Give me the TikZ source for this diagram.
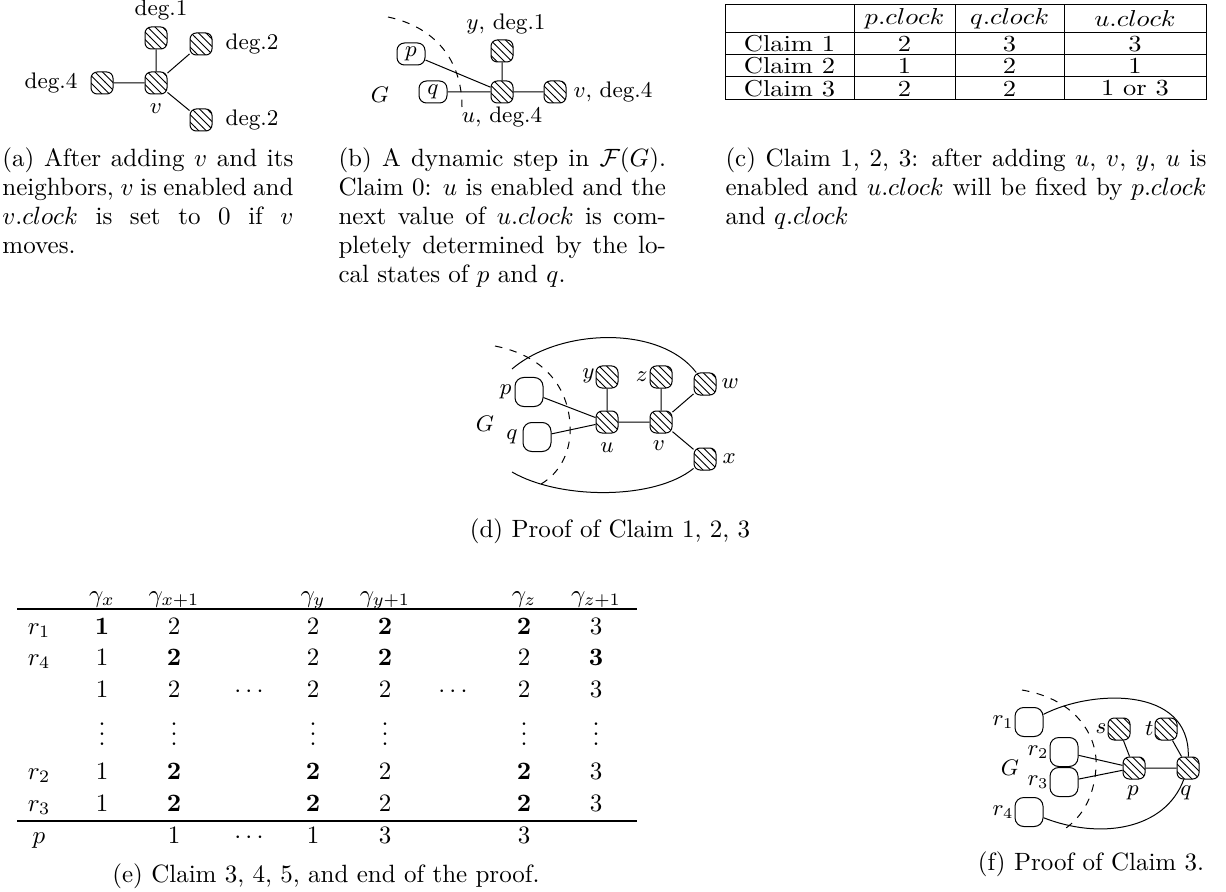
\documentclass[tikz,border=0pt]{standalone}
\usetikzlibrary{patterns}
\tolerance=10000
\hyphenpenalty=10000
\newcommand\tabrowE[3]{%
  \foreach \v [count=\k] in {#3} {%
    \pgfmathsetmacro\xx{{39,102,174,249,313,385,453,524,596}[\k-1]}%
    \node[tc] (#1\k) at (\xx,#2) {\v};
  }}
\newcommand\tabtxt[1]{\scalebox{1.06}[0.92]{#1}}
\newcommand\vdd{\vbox{\baselineskip4pt\lineskiplimit0pt\hbox{.}\hbox{.}\hbox{.}}}
\begin{document}
\begin{tikzpicture}[x=0.4pt,y=-0.4pt,line width=0.4pt,
 hn/.style={draw,rounded corners=2.5pt,minimum size=8.8pt,inner sep=0pt,pattern=north west lines},
 gb/.style={draw,rounded corners=3pt,minimum width=11.2pt,minimum height=8.8pt,inner sep=0pt,font=\fontsize{9}{11}\selectfont},
 gbb/.style={draw,rounded corners=3.5pt,minimum width=11.2pt,minimum height=11.6pt,inner sep=0pt},
 lb/.style={inner sep=0pt,font=\fontsize{9}{11}\selectfont},
 captxt/.style={anchor=base west,inner sep=0pt,align=justify,font=\fontsize{10}{11.6}\selectfont},
 ctr/.style={anchor=base,inner sep=0pt,font=\fontsize{10}{12}\selectfont},
 tc/.style={anchor=base,inner sep=0pt,font=\fontsize{10}{12}\selectfont},
 cc/.style={inner sep=0pt,font=\fontsize{10}{12}\selectfont},
 rl/.style={line width=0.7pt},
]
\useasboundingbox (0,0) rectangle (1226,892);

% ---------- (a)
\node[hn] (av) at (156,83) {};
\node[hn] (a1) at (156,38) {};
\node[hn] (a2) at (201,44) {};
\node[hn] (a4) at (102,83) {};
\node[hn] (a3) at (201,120) {};
\draw (av) -- (a1) (av) -- (a2) (av) -- (a4) (av) -- (a3);
\node[lb] (la1) at (161,10) {deg.1};
\node[lb] (la2) at (252,44) {deg.2};
\node[lb] (la4) at (51,83) {deg.4};
\node[lb] (la3) at (252,120) {deg.2};
\node[lb] (lav) at (156,109) {$v$};
\node[captxt,text width=116.4pt] (capa) at (2,167) {(a) After adding $v$ and its\linebreak neighbors, $v$ is enabled and\linebreak $v.clock$ is set to 0 if $v$\linebreak moves.};

% ---------- (b)
\node[gb] (bp) at (411,54) {$p$};
\node[gb] (bq) at (433,92) {$q$};
\node[hn] (bu) at (502,92) {};
\node[hn] (by) at (502,51) {};
\node[hn] (bv) at (555,92) {};
\draw (bp) -- (bu) (bq) -- (bu) (by) -- (bu) (bu) -- (bv);
\node[lb] (lbG) at (380,95) {$G$};
\node[lb] (lby) at (506,24) {$y$, deg.1};
\node[lb,anchor=west] (lbv) at (573,92) {$v$, deg.4};
\node[lb] (lbu) at (502,117) {$u$, deg.4};
\draw[dashed] (388,17) .. controls (435,27) and (462,60) .. (462,107);
\node[captxt,text width=131pt] (capb) at (338,167) {(b) A dynamic step in $\mathcal{F}(G)$.\linebreak Claim 0: $u$ is enabled and the\linebreak next value of $u.clock$ is com-\linebreak pletely determined by the lo-\linebreak cal states of $p$ and $q$.};

% ---------- (c)
\draw (725,5) rectangle (1206,100);
\draw (725,33) -- (1206,33) (725,55) -- (1206,55) (725,77) -- (1206,77);
\draw (854,5) -- (854,100) (955,5) -- (955,100) (1064,5) -- (1064,100);
\node[cc] (c12) at (904.5,19) {\tabtxt{$p.clock$}};
\node[cc] (c13) at (1009.5,19) {\tabtxt{$q.clock$}};
\node[cc] (c14) at (1135,19) {\tabtxt{$u.clock$}};
\node[cc] (c21) at (789.5,44) {\tabtxt{Claim 1}};
\node[cc] (c22) at (904.5,44) {\tabtxt{2}};
\node[cc] (c23) at (1009.5,44) {\tabtxt{3}};
\node[cc] (c24) at (1135,44) {\tabtxt{3}};
\node[cc] (c31) at (789.5,66) {\tabtxt{Claim 2}};
\node[cc] (c32) at (904.5,66) {\tabtxt{1}};
\node[cc] (c33) at (1009.5,66) {\tabtxt{2}};
\node[cc] (c34) at (1135,66) {\tabtxt{1}};
\node[cc] (c41) at (789.5,88.5) {\tabtxt{Claim 3}};
\node[cc] (c42) at (904.5,88.5) {\tabtxt{2}};
\node[cc] (c43) at (1009.5,88.5) {\tabtxt{2}};
\node[cc] (c44) at (1135,88.5) {\tabtxt{1 or 3}};
\node[captxt,text width=192.4pt] (capc) at (725,167) {(c) Claim 1, 2, 3: after adding $u$, $v$, $y$, $u$ is\linebreak enabled and $u.clock$ will be fixed by $p.clock$\linebreak and $q.clock$};

% ---------- (d)
\node[gbb] (dp) at (529,392) {};
\node[gbb] (dq) at (537,437) {};
\node[hn] (du) at (607,422) {};
\node[hn] (dv) at (661,422) {};
\node[hn] (dy) at (607,377) {};
\node[hn] (dz) at (661,377) {};
\node[hn] (dw) at (705,384) {};
\node[hn] (dx) at (705,459) {};
\draw (dp) -- (du) (dq) -- (du) (dy) -- (du) (du) -- (dv) (dz) -- (dv) (dv) -- (dw) (dv) -- (dx);
\coordinate (dt) at (512,369);
\coordinate (db) at (512,472);
\draw (dt) .. controls (560,328) and (660,325) .. (dw);
\draw (db) .. controls (560,500) and (655,500) .. (dx);
\draw[dashed] (495,346) .. controls (555,358) and (572,400) .. (570,435) .. controls (568,462) and (552,480) .. (535,487);
\node[lb,anchor=east] (ldp) at (512,392) {$p$};
\node[lb,anchor=east] (ldq) at (518,437) {$q$};
\node[lb] (ldG) at (485,424) {$G$};
\node[lb,anchor=east] (ldy) at (595,376) {$y$};
\node[lb,anchor=east] (ldz) at (648,377) {$z$};
\node[lb,anchor=west] (ldw) at (721,384) {$w$};
\node[lb,anchor=west] (ldx) at (722,459) {$x$};
\node[lb] (ldu) at (607,448) {$u$};
\node[lb] (ldv) at (659,446) {$v$};
\node[ctr] (capd) at (610,537) {(d) Proof of Claim 1, 2, 3};

% ---------- (e)
\draw[rl] (17,609) -- (637,609);
\draw[rl] (17,821) -- (637,821);
\tabrowE{eh}{602}{{},{$\gamma_x$},{$\gamma_{x+1}$},{},{$\gamma_y$},{$\gamma_{y+1}$},{},{$\gamma_z$},{$\gamma_{z+1}$}}
\tabrowE{ea}{634}{{$r_1$},{$\mathbf{1}$},2,{},2,{$\mathbf{2}$},{},{$\mathbf{2}$},3}
\tabrowE{eb}{665}{{$r_4$},1,{$\mathbf{2}$},{},2,{$\mathbf{2}$},{},2,{$\mathbf{3}$}}
\tabrowE{ec}{697}{{},1,2,{$\cdots$},2,2,{$\cdots$},2,3}
\tabrowE{ed}{745}{{},{\vdd},{\vdd},{},{\vdd},{\vdd},{},{\vdd},{\vdd}}
\tabrowE{ee}{779}{{$r_2$},1,{$\mathbf{2}$},{},{$\mathbf{2}$},2,{},{$\mathbf{2}$},3}
\tabrowE{ef}{811}{{$r_3$},1,{$\mathbf{2}$},{},{$\mathbf{2}$},2,{},{$\mathbf{2}$},3}
\tabrowE{eg}{843}{{$p$},{},1,{$\cdots$},1,3,{},3,{}}
\node[ctr] (cape) at (326,882) {(e) Claim 3, 4, 5, and end of the proof.};

% ---------- (f)
\node[gbb] (fr1) at (1029,722) {};
\node[gbb] (fr2) at (1064,752) {};
\node[gbb] (fr3) at (1064,782) {};
\node[gbb] (fr4) at (1029,812) {};
\node[hn] (fs) at (1119,729) {};
\node[hn] (ft) at (1166,729) {};
\node[hn] (fp) at (1134,768) {};
\node[hn] (fq) at (1188,768) {};
\draw (fr2) -- (fp) (fr3) -- (fp) (fs) -- (fp) (fp) -- (fq) (ft) -- (fq);
\draw (fr1) .. controls (1090,690) and (1190,685) .. (fq);
\draw (fr4) .. controls (1100,840) and (1165,830) .. (fq);
\draw[dashed] (1022,690) .. controls (1080,700) and (1098,740) .. (1096,767) .. controls (1094,800) and (1080,820) .. (1060,832);
\node[lb,anchor=east] (lfr1) at (1014,722) {$r_1$};
\node[lb,anchor=east] (lfr2) at (1049,752) {$r_2$};
\node[lb,anchor=east] (lfr3) at (1049,782) {$r_3$};
\node[lb,anchor=east] (lfr4) at (1014,812) {$r_4$};
\node[lb] (lfG) at (1010,768) {$G$};
\node[lb,anchor=east] (lfs) at (1107,729) {$s$};
\node[lb,anchor=east] (lft) at (1154,729) {$t$};
\node[lb] (lfp) at (1133,793) {$p$};
\node[lb] (lfq) at (1186,793) {$q$};
\node[ctr] (capf) at (1091,870) {(f) Proof of Claim 3.};
\end{tikzpicture}
\end{document}
